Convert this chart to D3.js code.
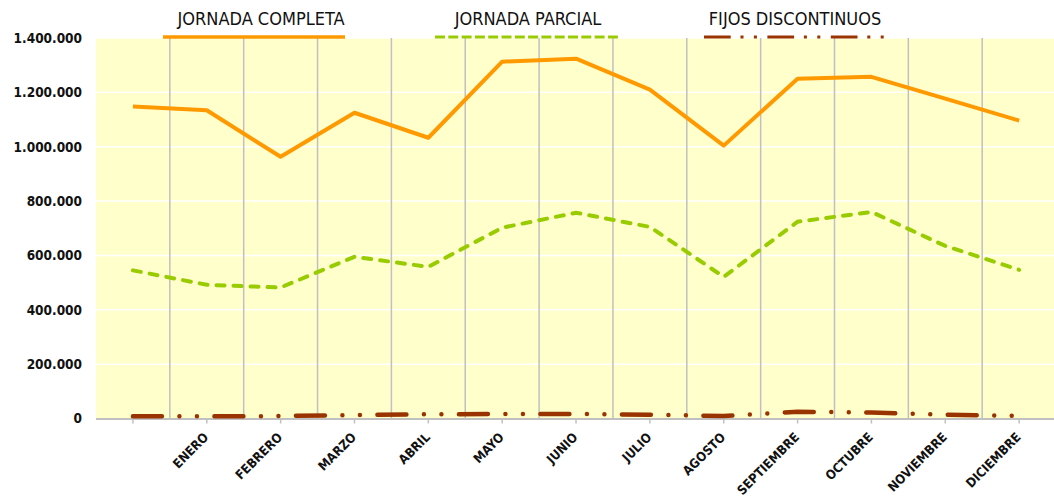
<!DOCTYPE html>
<html>
<head>
<meta charset="utf-8">
<script src="https://cdn.jsdelivr.net/npm/d3@7"></script>
<style>
  body { margin: 0; background: #fff; }
  svg { display: block; }
  text { font-family: "DejaVu Sans Condensed", "DejaVu Sans", sans-serif; }
</style>
</head>
<body>
<div id="chart"></div>
<script>
// months (first category has no label)
var months = ["", "ENERO", "FEBRERO", "MARZO", "ABRIL", "MAYO", "JUNIO", "JULIO",
  "AGOSTO", "SEPTIEMBRE", "OCTUBRE", "NOVIEMBRE", "DICIEMBRE"];

var completa = [1148000, 1134000, 963000, 1125000, 1033000, 1313000, 1324000,
  1210000, 1004000, 1250000, 1257000, 1177000, 1096000];
var parcial = [545000, 492000, 482000, 595000, 558000, 702000, 757000,
  705000, 521000, 724000, 760000, 635000, 547000];
var fijos = [8000, 8000, 9000, 13000, 15500, 16500, 16500,
  14000, 9000, 25000, 22000, 14000, 10000];

var seriesNames = ["JORNADA COMPLETA", "JORNADA PARCIAL", "FIJOS DISCONTINUOS"];
var yTicks = [0, 200000, 400000, 600000, 800000, 1000000, 1200000, 1400000];

var W = 1054, H = 499;
var plotLeft = 96, plotTop = 38, plotBottom = 418.5;
var bandW = 73.85;

var svg = d3.select("#chart").append("svg")
  .attr("width", W)
  .attr("height", H);

var x = d3.scaleBand()
  .domain(d3.range(months.length))
  .range([plotLeft, plotLeft + bandW * months.length])
  .paddingInner(0).paddingOuter(0);

var y = d3.scaleLinear()
  .domain([0, 1400000])
  .range([plotBottom, plotTop]);

var cx = function(i) { return x(i) + x.bandwidth() / 2; };

// plot background
svg.append("rect")
  .attr("x", plotLeft).attr("y", plotTop)
  .attr("width", x.range()[1] - plotLeft)
  .attr("height", plotBottom - plotTop)
  .style("fill", "#ffffcc");

// horizontal white gridlines
svg.append("g").selectAll("line")
  .data(yTicks.slice(1))
  .enter().append("line")
  .attr("x1", plotLeft).attr("x2", x.range()[1])
  .attr("y1", function(d) { return y(d); })
  .attr("y2", function(d) { return y(d); })
  .style("stroke", "#fff")
  .style("stroke-width", 1.5);

// vertical gray gridlines between categories
svg.append("g").selectAll("line")
  .data(d3.range(1, months.length))
  .enter().append("line")
  .attr("x1", function(d) { return x(d); })
  .attr("x2", function(d) { return x(d); })
  .attr("y1", plotTop).attr("y2", plotBottom)
  .style("stroke", "#c0c0c0")
  .style("stroke-width", 1.5);

// x axis
var xAxis = svg.append("g")
  .attr("transform", "translate(0," + plotBottom + ")")
  .call(d3.axisBottom(x).tickSize(5).tickFormat(""));
xAxis.select(".domain")
  .attr("d", "M" + plotLeft + ",0.5H" + W)
  .style("stroke", "#c0c0c0")
  .style("stroke-width", 2);
xAxis.selectAll(".tick line")
  .style("stroke", "#c0c0c0")
  .style("stroke-width", 1.5);

svg.append("g").selectAll("text")
  .data(months)
  .enter().append("text")
  .attr("transform", function(d, i) {
    return "translate(" + (cx(i) + 2.5) + ",438) rotate(-45)";
  })
  .attr("text-anchor", "end")
  .style("font-size", "12.8px")
  .style("font-weight", "bold")
  .style("fill", "#111")
  .text(function(d) { return d; });

// y axis labels
var yAxis = svg.append("g")
  .attr("transform", "translate(" + plotLeft + ",0)")
  .call(d3.axisLeft(y).tickValues(yTicks).tickSize(0).tickPadding(14)
    .tickFormat(function(d) { return d3.format(",")(d).replace(/,/g, "."); }));
yAxis.select(".domain").remove();
yAxis.selectAll("text")
  .style("font-family", "\"DejaVu Sans Condensed\", \"DejaVu Sans\", sans-serif")
  .style("font-size", "13.5px")
  .style("font-weight", "bold")
  .style("fill", "#111");

// lines
var line = d3.line()
  .x(function(d, i) { return cx(i); })
  .y(function(d) { return y(d); });

svg.append("path")
  .datum(fijos)
  .attr("d", line)
  .style("fill", "none")
  .style("stroke", "#993300")
  .style("stroke-width", 4.5)
  .style("stroke-linecap", "round")
  .style("stroke-dasharray", "29,17.5,0,17.5,0,17.5");

svg.append("path")
  .datum(parcial)
  .attr("d", line)
  .style("fill", "none")
  .style("stroke", "#99cc00")
  .style("stroke-width", 4)
  .style("stroke-linecap", "round")
  .style("stroke-dasharray", "8,9");

svg.append("path")
  .datum(completa)
  .attr("d", line)
  .style("fill", "none")
  .style("stroke", "#ff9900")
  .style("stroke-width", 4)
  .style("stroke-linejoin", "round");

// legend
var legend = [
  { x1: 163, x2: 345, tx: 261, color: "#ff9900", dash: null, w: 3.5 },
  { x1: 435, x2: 619, tx: 528, color: "#99cc00", dash: "10,3.3", w: 3 },
  { x1: 704, x2: 884, tx: 795, color: "#993300", dash: "26.7,9.8,3,10.4,3,10.5", w: 3 }
];
var lg = svg.append("g").selectAll("g")
  .data(legend)
  .enter().append("g");
lg.append("line")
  .attr("x1", function(d) { return d.x1; })
  .attr("x2", function(d) { return d.x2; })
  .attr("y1", 37).attr("y2", 37)
  .style("stroke", function(d) { return d.color; })
  .style("stroke-width", function(d) { return d.w; })
  .style("stroke-dasharray", function(d) { return d.dash; });
lg.append("text")
  .attr("x", function(d) { return d.tx; })
  .attr("y", 25)
  .attr("text-anchor", "middle")
  .style("font-size", "18px")
  .style("fill", "#111")
  .text(function(d, i) { return seriesNames[i]; });
</script>
</body>
</html>
